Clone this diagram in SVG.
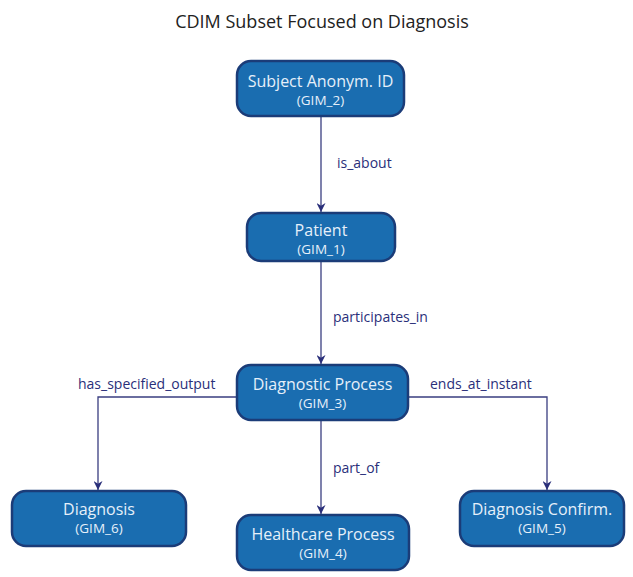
<svg xmlns="http://www.w3.org/2000/svg" width="633" height="577" viewBox="0 0 633 577">
<defs>
<style>
.box{fill:#1a6db0;stroke:#1b3c78;stroke-width:2.5}
.t1{font-family:"Open Sans","Noto Sans",sans-serif;font-size:16px;fill:#e6f0fa;text-anchor:middle}
.t2{font-family:"Open Sans","Noto Sans",sans-serif;font-size:13.5px;fill:#e6f0fa;text-anchor:middle}
.lbl{font-family:"Open Sans","Noto Sans",sans-serif;font-size:14px;fill:#2a2f7a}
.title{font-family:"Open Sans","Noto Sans",sans-serif;font-size:18px;fill:#222;text-anchor:middle}
.edge{fill:none;stroke:#3a3e80;stroke-width:1.3}
</style>
<marker id="arr" viewBox="0 0 10 10" refX="10" refY="5" markerWidth="9" markerHeight="9" markerUnits="userSpaceOnUse" orient="auto">
<path d="M0,0 L10,5 L0,10 L3,5 z" fill="#2a2f7a"/>
</marker>
</defs>
<rect width="633" height="577" fill="#ffffff"/>
<text class="title" x="322" y="28">CDIM Subset Focused on Diagnosis</text>
<g id="connectors">
<path class="edge" d="M321,116 V212" marker-end="url(#arr)"/>
<path class="edge" d="M321,261 V364" marker-end="url(#arr)"/>
<path class="edge" d="M237,397 H98 V490" marker-end="url(#arr)"/>
<path class="edge" d="M408,397 H547 V490" marker-end="url(#arr)"/>
<path class="edge" d="M321,420 V514" marker-end="url(#arr)"/>
<text class="lbl" x="337" y="168">is_about</text>
<text class="lbl" x="333" y="322">participates_in</text>
<text class="lbl" x="78" y="389">has_specified_output</text>
<text class="lbl" x="430" y="389">ends_at_instant</text>
<text class="lbl" x="333" y="473">part_of</text>
</g>
<g id="n_subject">
<rect class="box" x="237" y="61" width="167" height="55" rx="14"/>
<text class="t1" x="320.5" y="87">Subject Anonym. ID</text>
<text class="t2" x="320.5" y="105">(GIM_2)</text>
</g>
<g id="n_patient">
<rect class="box" x="247" y="213" width="148" height="48" rx="14"/>
<text class="t1" x="321" y="236">Patient</text>
<text class="t2" x="321" y="254">(GIM_1)</text>
</g>
<g id="n_diagproc">
<rect class="box" x="237" y="365" width="171" height="55" rx="14"/>
<text class="t1" x="322.5" y="390">Diagnostic Process</text>
<text class="t2" x="322.5" y="408">(GIM_3)</text>
</g>
<g id="n_diagnosis">
<rect class="box" x="12" y="491" width="174" height="55" rx="14"/>
<text class="t1" x="99" y="515">Diagnosis</text>
<text class="t2" x="99" y="533">(GIM_6)</text>
</g>
<g id="n_healthcare">
<rect class="box" x="237" y="515" width="172" height="55" rx="14"/>
<text class="t1" x="323" y="540">Healthcare Process</text>
<text class="t2" x="323" y="558">(GIM_4)</text>
</g>
<g id="n_confirm">
<rect class="box" x="460" y="491" width="164" height="55" rx="14"/>
<text class="t1" x="542" y="515">Diagnosis Confirm.</text>
<text class="t2" x="542" y="533">(GIM_5)</text>
</g>
</svg>
